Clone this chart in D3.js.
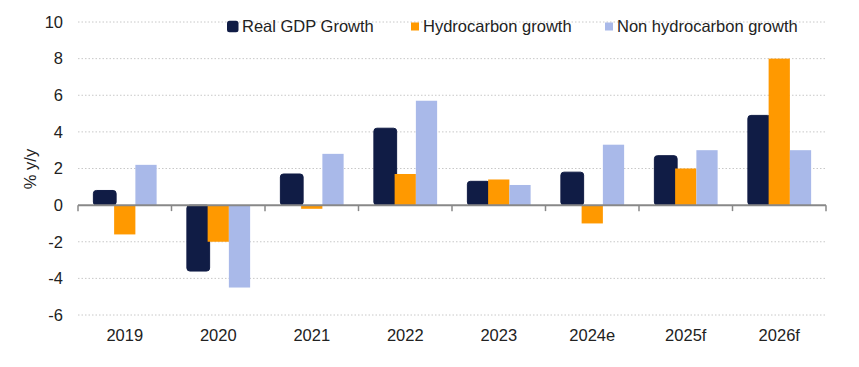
<!DOCTYPE html>
<html><head><meta charset="utf-8">
<script src="https://cdn.jsdelivr.net/npm/d3@7"></script>
<style>body{margin:0;background:#fff}svg{display:block;font-family:"Liberation Sans",Arial,sans-serif}</style>
</head><body><svg id="c" width="859" height="367"></svg>
<script>
const categories = ["2019","2020","2021","2022","2023","2024e","2025f","2026f"];
const seriesNames = ["Real GDP Growth","Hydrocarbon growth","Non hydrocarbon growth"];
const gdp = [0.8,-3.6,1.7,4.2,1.3,1.8,2.7,4.9];
const hydro = [-1.6,-2.0,-0.2,1.7,1.4,-1.0,2.0,8.0];
const nonHydro = [2.2,-4.5,2.8,5.7,1.1,3.3,3.0,3.0];
const yTicks = [-6,-4,-2,0,2,4,6,8,10];
const colors = ["#101c45","#ff9900","#a9b9e9"];

(function(){
const svg = d3.select("#c");
const FS = 16.5;
const mL = 78, mR = 826, mT = 22, mB = 315;
const x = d3.scaleBand().domain(categories).range([mL,mR]).paddingInner(0).paddingOuter(0);
const y = d3.scaleLinear().domain([-6,10]).range([mB,mT]);
const xs = d3.scaleBand().domain(d3.range(3)).range([0,x.bandwidth()]).paddingInner(0).paddingOuter(0.7);

// gridlines
svg.append("g").selectAll("line").data(yTicks.filter(d=>d!==0)).join("line")
  .attr("x1",mL).attr("x2",mR).attr("y1",d=>y(d)).attr("y2",d=>y(d))
  .attr("stroke","#c8c8c8").attr("stroke-width",1).attr("stroke-dasharray","1.5,2");

// y axis labels
const yAxis = d3.axisLeft(y).tickValues(yTicks).tickSize(0).tickPadding(15).tickFormat(d=>String(d));
const gy = svg.append("g").attr("transform",`translate(${mL},0)`).call(yAxis);
gy.select(".domain").remove();
gy.selectAll("text").attr("font-size",FS).attr("fill","#222").attr("font-family","Liberation Sans, Arial, sans-serif");

svg.append("text").attr("transform","rotate(-90)").attr("x",-169).attr("y",36)
  .attr("text-anchor","middle").attr("font-size",FS).attr("fill","#222").text("% y/y");

const data = [gdp,hydro,nonHydro];
data.forEach((vals,si)=>{
  svg.append("g").selectAll("rect").data(vals).join("rect")
    .attr("x",(d,i)=>x(categories[i])+xs(si) + (si===0?0.5:0))
    .attr("width",xs.bandwidth() + (si===0?1.5:0))
    .attr("y",d=>Math.min(y(d),y(0)))
    .attr("height",d=>Math.abs(y(d)-y(0)))
    .attr("fill",colors[si])
    .attr("rx",si===0?3:0)
    .attr("stroke",si===0?colors[0]:"none").attr("stroke-width",si===0?1:0);
});
// redraw orange/light on top of dark border overlap
// zero axis
svg.append("line").attr("x1",mL).attr("x2",mR).attr("y1",y(0)).attr("y2",y(0))
  .attr("stroke","#888").attr("stroke-width",2);
const bounds = categories.map(c=>x(c)).concat([mR]);
svg.append("g").selectAll("line").data(bounds).join("line")
  .attr("x1",d=>d).attr("x2",d=>d).attr("y1",y(0)).attr("y2",y(0)+6)
  .attr("stroke","#888").attr("stroke-width",1.5);

// x labels
const xAxis = d3.axisBottom(x).tickSize(0).tickPadding(0);
const gx = svg.append("g").attr("transform",`translate(0,${mB})`).call(xAxis);
gx.select(".domain").remove();
gx.selectAll("text").attr("font-size",FS).attr("fill","#222").attr("dy","1.55em").attr("font-family","Liberation Sans, Arial, sans-serif");

// legend
const legX = [227,411,605];
const lg = svg.append("g");
const ly = 26.5;
seriesNames.forEach((n,i)=>{
  const s = i===0?11.5:8;
  lg.append("rect").attr("x",legX[i]).attr("y",ly-s/2).attr("width",s).attr("height",s)
    .attr("rx",i===0?2.5:0).attr("fill",colors[i]);
  lg.append("text").attr("x",legX[i]+(i===0?15:12)).attr("y",ly).attr("dy","0.35em")
    .attr("font-size",FS).attr("fill","#222").text(n);
});
})();
</script></body></html>
